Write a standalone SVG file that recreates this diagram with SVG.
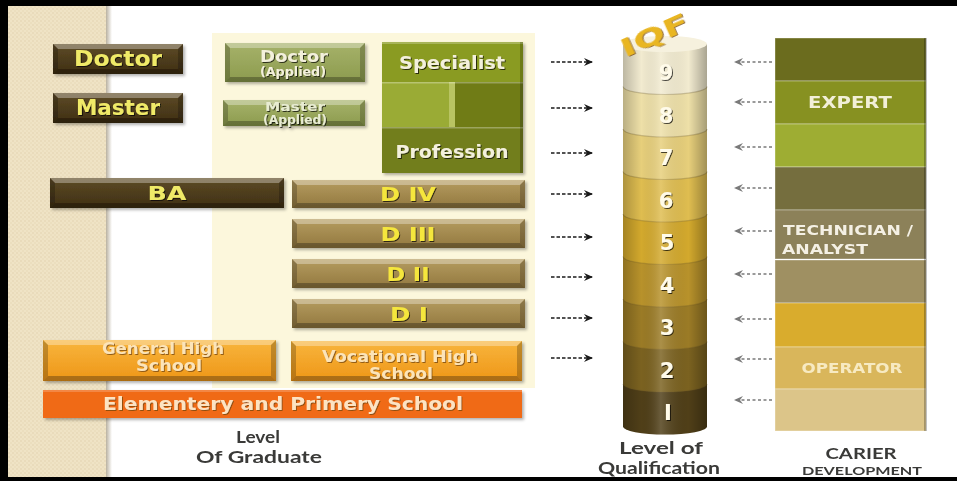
<svg xmlns="http://www.w3.org/2000/svg" width="957" height="481" viewBox="0 0 957 481">
  <defs>
    <style>
      .lbl { font-family: "DejaVu Sans", "Liberation Sans", sans-serif; font-weight: bold; text-anchor: middle; }
      .cap { font-family: "Lato", "Liberation Sans", sans-serif; font-weight: bold; text-anchor: middle; fill: #3a3a38; }
      .yel { fill: #f0ea68; filter: url(#txtShadow); }
      .dl { fill: #f5e63c; filter: url(#txtShadow); }
      .wht { fill: #f3f0dc; filter: url(#txtShadow); }
      .crm { fill: #fce4b8; filter: url(#txtShadowOr); }
      .num { font-family: "DejaVu Sans", "Liberation Sans", sans-serif; font-weight: bold; font-size: 21px; text-anchor: middle; fill: #fffbea; filter: url(#txtShadow); }
      .bt { fill: #ffffff; fill-opacity: 0.32; }
      .bb { fill: #000000; fill-opacity: 0.28; }
      .bs { fill: #000000; fill-opacity: 0.22; }
      .arR { stroke: #1a1a1a; stroke-width: 1.6; stroke-dasharray: 3.5 2; fill: none; marker-end: url(#headR); }
      .arL { stroke: #7a7a7a; stroke-width: 1.3; stroke-dasharray: 3 2.5; fill: none; marker-end: url(#headL); }
      .seg { stroke: #6e5a28; stroke-opacity: 0.3; stroke-width: 1.2; }
      .blk { stroke: #ffffff; stroke-opacity: 0.35; stroke-width: 1; }
    </style>
    <pattern id="dots" width="4" height="4" patternUnits="userSpaceOnUse">
      <rect width="4" height="4" fill="#efe3c5"/>
      <circle cx="1" cy="1" r="0.8" fill="#e2d2ae"/>
      <circle cx="3" cy="3" r="0.8" fill="#e6d8b6"/>
    </pattern>
    <linearGradient id="edgeShade" x1="0" y1="0" x2="1" y2="0">
      <stop offset="0" stop-color="#b9b1a0"/>
      <stop offset="1" stop-color="#ffffff"/>
    </linearGradient>
    <linearGradient id="gBrown" x1="0" y1="0" x2="0" y2="1">
      <stop offset="0" stop-color="#5e4b26"/>
      <stop offset="1" stop-color="#3e2f14"/>
    </linearGradient>
    <linearGradient id="gOlive" x1="0" y1="0" x2="0" y2="1">
      <stop offset="0" stop-color="#a6b26a"/>
      <stop offset="1" stop-color="#8c9b4e"/>
    </linearGradient>
    <linearGradient id="gGold" x1="0" y1="0" x2="0" y2="1">
      <stop offset="0" stop-color="#b59c60"/>
      <stop offset="1" stop-color="#92783f"/>
    </linearGradient>
    <linearGradient id="gOrange" x1="0" y1="0" x2="0" y2="1">
      <stop offset="0" stop-color="#f8b53c"/>
      <stop offset="1" stop-color="#ee9618"/>
    </linearGradient>
    <linearGradient id="cylShade" x1="0" y1="0" x2="1" y2="0">
      <stop offset="0" stop-color="#000000" stop-opacity="0.22"/>
      <stop offset="0.22" stop-color="#000000" stop-opacity="0"/>
      <stop offset="0.45" stop-color="#ffffff" stop-opacity="0.16"/>
      <stop offset="0.78" stop-color="#000000" stop-opacity="0"/>
      <stop offset="1" stop-color="#000000" stop-opacity="0.3"/>
    </linearGradient>
    <filter id="boxShadow" x="-10%" y="-20%" width="125%" height="160%">
      <feDropShadow dx="2" dy="2" stdDeviation="1.5" flood-color="#000" flood-opacity="0.3"/>
    </filter>
    <filter id="txtShadow" x="-10%" y="-30%" width="130%" height="160%">
      <feDropShadow dx="1" dy="1" stdDeviation="0.6" flood-color="#000" flood-opacity="0.7"/>
    </filter>
    <filter id="txtShadowOr" x="-10%" y="-30%" width="130%" height="160%">
      <feDropShadow dx="1" dy="1" stdDeviation="0.6" flood-color="#7a4a08" flood-opacity="0.8"/>
    </filter>
    <marker id="headR" markerUnits="userSpaceOnUse" markerWidth="9" markerHeight="8" refX="8" refY="4" orient="auto">
      <path d="M0 0 L9 4 L0 8 L3 4 Z" fill="#1a1a1a"/>
    </marker>
    <marker id="headL" markerUnits="userSpaceOnUse" markerWidth="9" markerHeight="8" refX="8" refY="4" orient="auto">
      <path d="M0 0 L9 4 L0 8 L3 4 Z" fill="#7a7a7a"/>
    </marker>
  </defs>

  <!-- page background and frame -->
  <rect width="957" height="481" fill="#ffffff"/>
  <rect x="8" y="0" width="99" height="481" fill="url(#dots)"/>
  <rect x="106" y="0" width="6" height="481" fill="url(#edgeShade)"/>
  <rect x="212" y="33" width="323" height="355" fill="#fcf7dc"/>

  <!-- graduate levels -->
  <g id="doctor" filter="url(#boxShadow)">
    <rect x="53" y="44" width="130" height="30" fill="url(#gBrown)"/>
    <path class="bt" d="M53 44H183L178 49H58Z"/>
    <path class="bb" d="M53 74H183L178 69H58Z"/>
    <path class="bs" d="M53 44L58 49V69L53 74Z"/>
    <path class="bs" d="M183 44L178 49V69L183 74Z"/>
    <text class="lbl yel" x="118" y="66" font-size="21" textLength="88" lengthAdjust="spacingAndGlyphs">Doctor</text>
  </g>
  <g id="master" filter="url(#boxShadow)">
    <rect x="53" y="93" width="130" height="30" fill="url(#gBrown)"/>
    <path class="bt" d="M53 93H183L178 98H58Z"/>
    <path class="bb" d="M53 123H183L178 118H58Z"/>
    <path class="bs" d="M53 93L58 98V118L53 123Z"/>
    <path class="bs" d="M183 93L178 98V118L183 123Z"/>
    <text class="lbl yel" x="118" y="115" font-size="21" textLength="84" lengthAdjust="spacingAndGlyphs">Master</text>
  </g>
  <g id="ba" filter="url(#boxShadow)">
    <rect x="50" y="178" width="234" height="30" fill="url(#gBrown)"/>
    <path class="bt" d="M50 178H284L279 183H55Z"/>
    <path class="bb" d="M50 208H284L279 203H55Z"/>
    <path class="bs" d="M50 178L55 183V203L50 208Z"/>
    <path class="bs" d="M284 178L279 183V203L284 208Z"/>
    <text class="lbl yel" x="167" y="200" font-size="20" textLength="39" lengthAdjust="spacingAndGlyphs">BA</text>
  </g>

  <g id="doctor-applied" filter="url(#boxShadow)">
    <rect x="225" y="43" width="140" height="39" fill="url(#gOlive)"/>
    <path class="bt" d="M225 43H365L360 48H230Z"/>
    <path class="bb" d="M225 82H365L360 77H230Z"/>
    <path class="bs" d="M225 43L230 48V77L225 82Z"/>
    <path class="bs" d="M365 43L360 48V77L365 82Z"/>
    <text class="lbl wht" x="294" y="62" font-size="15" textLength="68" lengthAdjust="spacingAndGlyphs">Doctor</text>
    <text class="lbl wht" x="293" y="76" font-size="11.5" textLength="66" lengthAdjust="spacingAndGlyphs">(Applied)</text>
  </g>
  <g id="master-applied" filter="url(#boxShadow)">
    <rect x="223" y="100" width="142" height="26" fill="url(#gOlive)"/>
    <path class="bt" d="M223 100H365L360 105H228Z"/>
    <path class="bb" d="M223 126H365L360 121H228Z"/>
    <path class="bs" d="M223 100L228 105V121L223 126Z"/>
    <path class="bs" d="M365 100L360 105V121L365 126Z"/>
    <text class="lbl" fill="#e8ecd2" style="filter:url(#txtShadow)" x="295" y="111" font-size="13" textLength="60" lengthAdjust="spacingAndGlyphs">Master</text>
    <text class="lbl" fill="#e8ecd2" style="filter:url(#txtShadow)" x="295" y="124" font-size="11.5" textLength="64" lengthAdjust="spacingAndGlyphs">(Applied)</text>
  </g>

  <g id="specialist-profession" filter="url(#boxShadow)">
    <rect x="382" y="42" width="141" height="40" fill="#8a9b20"/>
    <rect x="382" y="82" width="67" height="45" fill="#9aab34"/>
    <rect x="449" y="82" width="6" height="45" fill="#b9c463"/>
    <rect x="455" y="82" width="68" height="45" fill="#6f7b17"/>
    <rect x="382" y="127" width="141" height="46" fill="#727e1b"/>
    <rect x="382" y="42" width="141" height="2" fill="#ffffff" fill-opacity="0.25"/>
    <rect x="382" y="82" width="141" height="1.5" fill="#ffffff" fill-opacity="0.3"/>
    <rect x="382" y="127" width="141" height="1.5" fill="#ffffff" fill-opacity="0.3"/>
    <rect x="520" y="42" width="3" height="131" fill="#000000" fill-opacity="0.2"/>
    <text class="lbl wht" x="452" y="69" font-size="18" textLength="106" lengthAdjust="spacingAndGlyphs">Specialist</text>
    <text class="lbl wht" x="452" y="158" font-size="18" textLength="113" lengthAdjust="spacingAndGlyphs">Profession</text>
  </g>

  <g id="d4" filter="url(#boxShadow)">
    <rect x="292" y="180" width="233" height="28" fill="url(#gGold)"/>
    <path class="bt" d="M292 180H525L520 185H297Z"/>
    <path class="bb" d="M292 208H525L520 203H297Z"/>
    <path class="bs" d="M292 180L297 185V203L292 208Z"/>
    <path class="bs" d="M525 180L520 185V203L525 208Z"/>
    <text class="lbl dl" x="408" y="201" font-size="20" textLength="56" lengthAdjust="spacingAndGlyphs">D IV</text>
  </g>
  <g id="d3" filter="url(#boxShadow)">
    <rect x="292" y="219" width="233" height="29" fill="url(#gGold)"/>
    <path class="bt" d="M292 219H525L520 224H297Z"/>
    <path class="bb" d="M292 248H525L520 243H297Z"/>
    <path class="bs" d="M292 219L297 224V243L292 248Z"/>
    <path class="bs" d="M525 219L520 224V243L525 248Z"/>
    <text class="lbl dl" x="408" y="241" font-size="20" textLength="55" lengthAdjust="spacingAndGlyphs">D III</text>
  </g>
  <g id="d2" filter="url(#boxShadow)">
    <rect x="292" y="259" width="233" height="29" fill="url(#gGold)"/>
    <path class="bt" d="M292 259H525L520 264H297Z"/>
    <path class="bb" d="M292 288H525L520 283H297Z"/>
    <path class="bs" d="M292 259L297 264V283L292 288Z"/>
    <path class="bs" d="M525 259L520 264V283L525 288Z"/>
    <text class="lbl dl" x="408" y="281" font-size="20" textLength="43" lengthAdjust="spacingAndGlyphs">D II</text>
  </g>
  <g id="d1" filter="url(#boxShadow)">
    <rect x="292" y="299" width="233" height="29" fill="url(#gGold)"/>
    <path class="bt" d="M292 299H525L520 304H297Z"/>
    <path class="bb" d="M292 328H525L520 323H297Z"/>
    <path class="bs" d="M292 299L297 304V323L292 328Z"/>
    <path class="bs" d="M525 299L520 304V323L525 328Z"/>
    <text class="lbl dl" x="409" y="321" font-size="20" textLength="38" lengthAdjust="spacingAndGlyphs">D I</text>
  </g>

  <g id="general-high" filter="url(#boxShadow)">
    <rect x="43" y="340" width="233" height="41" fill="url(#gOrange)"/>
    <path class="bt" d="M43 340H276L271 345H48Z"/>
    <path class="bb" d="M43 381H276L271 376H48Z"/>
    <path class="bs" d="M43 340L48 345V376L43 381Z"/>
    <path class="bs" d="M276 340L271 345V376L276 381Z"/>
    <text class="lbl crm" x="163" y="354" font-size="15" textLength="122" lengthAdjust="spacingAndGlyphs">General  High</text>
    <text class="lbl crm" x="169" y="371" font-size="15" textLength="66" lengthAdjust="spacingAndGlyphs">School</text>
  </g>
  <g id="vocational-high" filter="url(#boxShadow)">
    <rect x="291" y="341" width="231" height="40" fill="url(#gOrange)"/>
    <path class="bt" d="M291 341H522L517 346H296Z"/>
    <path class="bb" d="M291 381H522L517 376H296Z"/>
    <path class="bs" d="M291 341L296 346V376L291 381Z"/>
    <path class="bs" d="M522 341L517 346V376L522 381Z"/>
    <text class="lbl crm" x="400" y="362" font-size="15" textLength="156" lengthAdjust="spacingAndGlyphs">Vocational High</text>
    <text class="lbl crm" x="401" y="379" font-size="15" textLength="64" lengthAdjust="spacingAndGlyphs">School</text>
  </g>
  <g id="elementary" filter="url(#boxShadow)">
    <rect x="43" y="390" width="479" height="28" fill="#f06a16"/>
    <rect x="43" y="390" width="479" height="2" fill="#ffffff" fill-opacity="0.2"/>
    <text class="lbl" fill="#fde3c2" style="filter:url(#txtShadowOr)" x="283" y="410" font-size="17" textLength="360" lengthAdjust="spacingAndGlyphs">Elementery and Primery School</text>
  </g>

  <g id="graduate-caption">
    <text class="cap" x="258" y="443" font-size="17" textLength="44" lengthAdjust="spacingAndGlyphs">Level</text>
    <text class="cap" x="259" y="463" font-size="17" textLength="126" lengthAdjust="spacingAndGlyphs">Of Graduate</text>
  </g>

  <!-- IQF level column -->
  <g id="iqf-column">
    <g id="level-1"><path d="M623 384V426.5A42 8 0 0 0 707 426.5V384Z" fill="#503f18"/></g>
    <g id="level-2"><path d="M623 341.5V384A42 8 0 0 0 707 384V341.5Z" fill="#7b6220"/><path class="seg" fill="none" d="M623 384A42 8 0 0 0 707 384"/></g>
    <g id="level-3"><path d="M623 299V341.5A42 8 0 0 0 707 341.5V299Z" fill="#9b7b26"/><path class="seg" fill="none" d="M623 341.5A42 8 0 0 0 707 341.5"/></g>
    <g id="level-4"><path d="M623 256.5V299A42 8 0 0 0 707 299V256.5Z" fill="#b8922b"/><path class="seg" fill="none" d="M623 299A42 8 0 0 0 707 299"/></g>
    <g id="level-5"><path d="M623 214V256.5A42 8 0 0 0 707 256.5V214Z" fill="#d3a92d"/><path class="seg" fill="none" d="M623 256.5A42 8 0 0 0 707 256.5"/></g>
    <g id="level-6"><path d="M623 171.5V214A42 8 0 0 0 707 214V171.5Z" fill="#dfbd50"/><path class="seg" fill="none" d="M623 214A42 8 0 0 0 707 214"/></g>
    <g id="level-7"><path d="M623 129V171.5A42 8 0 0 0 707 171.5V129Z" fill="#e7cf7b"/><path class="seg" fill="none" d="M623 171.5A42 8 0 0 0 707 171.5"/></g>
    <g id="level-8"><path d="M623 86.5V129A42 8 0 0 0 707 129V86.5Z" fill="#eee0a8"/><path class="seg" fill="none" d="M623 129A42 8 0 0 0 707 129"/></g>
    <g id="level-9"><path d="M623 44V86.5A42 8 0 0 0 707 86.5V44Z" fill="#f2ebd0"/><path class="seg" fill="none" d="M623 86.5A42 8 0 0 0 707 86.5"/></g>
    <path d="M623 44V426.5A42 8 0 0 0 707 426.5V44Z" fill="url(#cylShade)"/>
    <ellipse cx="665" cy="44" rx="42" ry="8" fill="#f6f1de"/>
    <text x="0" y="0" transform="translate(658 43) rotate(-24)" font-family="DejaVu Sans, Liberation Sans, sans-serif" font-weight="bold" font-size="25" fill="#e9b620" text-anchor="middle" style="filter:url(#txtShadowOr)" textLength="72" lengthAdjust="spacingAndGlyphs">IQF</text>
    <text class="num" x="666" y="80">9</text>
    <text class="num" x="666" y="122.5">8</text>
    <text class="num" x="666" y="165">7</text>
    <text class="num" x="666" y="207.5">6</text>
    <text class="num" x="667" y="250">5</text>
    <text class="num" x="667" y="292.5">4</text>
    <text class="num" x="667" y="335">3</text>
    <text class="num" x="667" y="377.5">2</text>
    <text class="num" x="668" y="420">I</text>
  </g>
  <g id="qualification-caption">
    <text class="cap" x="661" y="454" font-size="17" textLength="84" lengthAdjust="spacingAndGlyphs">Level of</text>
    <text class="cap" x="659" y="474" font-size="17" textLength="122" lengthAdjust="spacingAndGlyphs">Qualification</text>
  </g>

  <!-- career development column -->
  <g id="career-column">
    <rect class="blk" x="775" y="38" width="151" height="43" fill="#6b6c1e"/>
    <rect class="blk" x="775" y="81" width="151" height="43" fill="#879121"/>
    <rect class="blk" x="775" y="124" width="151" height="43" fill="#9ead33"/>
    <rect class="blk" x="775" y="167" width="151" height="43" fill="#756e3e"/>
    <rect class="blk" x="775" y="210" width="151" height="49" fill="#8c8159"/>
    <rect class="blk" x="775" y="260" width="151" height="43" fill="#9f9062"/>
    <rect class="blk" x="775" y="303" width="151" height="44" fill="#d9ac2d"/>
    <rect class="blk" x="775" y="347" width="151" height="42" fill="#d9b65b"/>
    <rect class="blk" x="775" y="389" width="151" height="42" fill="#dcc589"/>
    <rect x="924" y="38" width="3" height="393" fill="#000000" fill-opacity="0.25"/>
    <text class="lbl" fill="#f2efd8" x="850" y="108" font-size="15" textLength="84" lengthAdjust="spacingAndGlyphs">EXPERT</text>
    <text class="lbl" fill="#f4f0e4" x="783" y="235" font-size="14" style="text-anchor:start" textLength="130" lengthAdjust="spacingAndGlyphs">TECHNICIAN /</text>
    <text class="lbl" fill="#f4f0e4" x="782" y="254" font-size="14" style="text-anchor:start" textLength="86" lengthAdjust="spacingAndGlyphs">ANALYST</text>
    <text class="lbl" fill="#f7eac2" x="852" y="373" font-size="14" textLength="101" lengthAdjust="spacingAndGlyphs">OPERATOR</text>
  </g>
  <g id="career-caption">
    <text class="cap" x="861" y="459" font-size="14.5" textLength="71" lengthAdjust="spacingAndGlyphs">CARIER</text>
    <text class="cap" x="862" y="475" font-size="11.5" textLength="120" lengthAdjust="spacingAndGlyphs">DEVELOPMENT</text>
  </g>

  <!-- connectors -->
  <g id="connectors">
    <line class="arR" x1="551" y1="62" x2="592" y2="62"/>
    <line class="arR" x1="551" y1="108" x2="592" y2="108"/>
    <line class="arR" x1="551" y1="153" x2="592" y2="153"/>
    <line class="arR" x1="551" y1="194" x2="592" y2="194"/>
    <line class="arR" x1="551" y1="237" x2="592" y2="237"/>
    <line class="arR" x1="551" y1="277" x2="592" y2="277"/>
    <line class="arR" x1="551" y1="318" x2="592" y2="318"/>
    <line class="arR" x1="551" y1="358" x2="592" y2="358"/>
    <line class="arL" x1="772" y1="62" x2="735" y2="62"/>
    <line class="arL" x1="772" y1="102" x2="735" y2="102"/>
    <line class="arL" x1="772" y1="147" x2="735" y2="147"/>
    <line class="arL" x1="772" y1="188" x2="735" y2="188"/>
    <line class="arL" x1="772" y1="231" x2="735" y2="231"/>
    <line class="arL" x1="772" y1="274" x2="735" y2="274"/>
    <line class="arL" x1="772" y1="319" x2="735" y2="319"/>
    <line class="arL" x1="772" y1="359" x2="735" y2="359"/>
    <line class="arL" x1="772" y1="400" x2="735" y2="400"/>
  </g>

  <!-- frame edges -->
  <rect x="0" y="0" width="957" height="6" fill="#000000"/>
  <rect x="0" y="0" width="8" height="481" fill="#000000"/>
  <rect x="0" y="477" width="957" height="4" fill="#000000"/>
</svg>
